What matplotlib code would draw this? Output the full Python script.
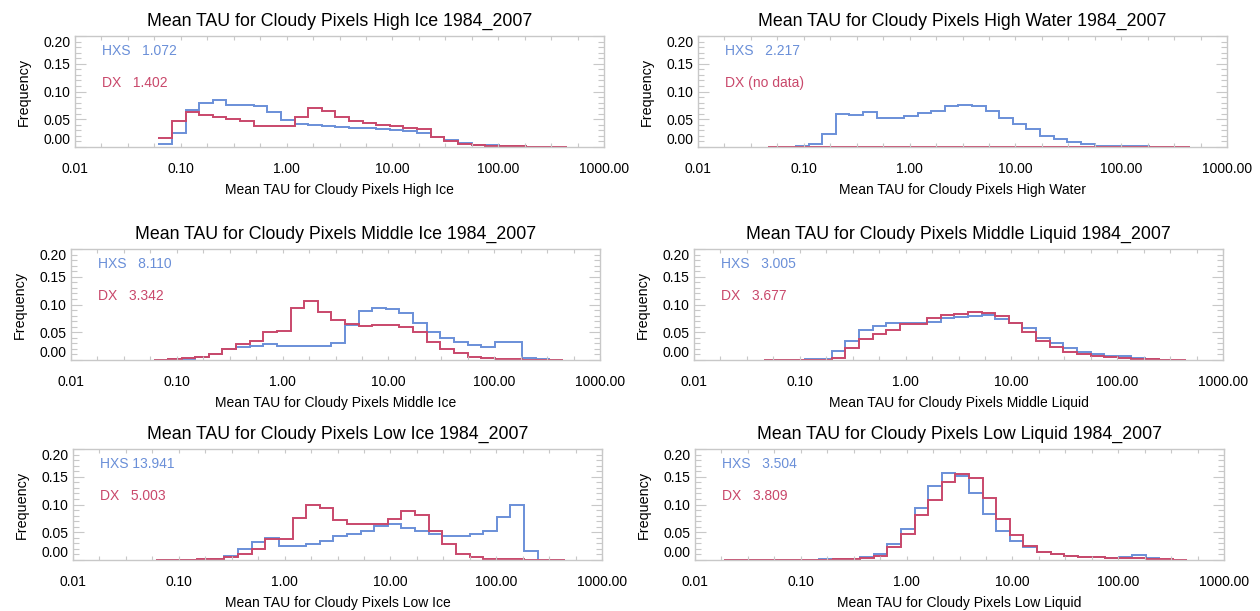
import numpy as np
import matplotlib
matplotlib.use("Agg")
import matplotlib.pyplot as plt
from matplotlib.ticker import FixedLocator, FormatStrFormatter, NullFormatter

plt.rcParams['font.family'] = ['Liberation Sans', 'DejaVu Sans']

# log-spaced optical depth bin edges shared by every histogram
tau_edges = [0.0187, 0.0252, 0.0339, 0.0456, 0.0614, 0.0826, 0.111, 0.149,
             0.201, 0.270, 0.363, 0.489, 0.657, 0.883, 1.19, 1.60, 2.15,
             2.89, 3.89, 5.23, 7.03, 9.46, 12.7, 17.1, 23.0, 31.0, 41.6,
             56.0, 75.3, 101.0, 136.0, 183.0, 246.0, 331.0, 446.0]

# frequencies per bin; *_first is the index of the first populated bin
high_ice_hxs_first = 4
high_ice_hxs = [.005, .025, .067, .079, .085, .076, .075, .073, .063, .048,
                .042, .039, .037, .036, .035, .034, .032, .030, .028, .025,
                .018, .013, .007, .004, .003, .002, .0012, .0006]
high_ice_dx_first = 4
high_ice_dx = [.017, .047, .063, .057, .054, .050, .047, .037, .038, .038,
               .054, .070, .064, .054, .047, .043, .040, .037, .035, .032,
               .018, .011, .006, .004, .002, .0015, .001, .0007, .0005, .0003]

high_water_hxs_first = 5
high_water_hxs = [.002, .005, .024, .060, .058, .063, .053, .052, .055, .061,
                  .064, .073, .076, .073, .064, .053, .042, .033, .020, .014,
                  .009, .005, .0025, .002, .0015, .001, .0005, .0003]
high_water_dx_first = 3
high_water_dx = [0.0] * 31

mid_ice_hxs_first = 4
mid_ice_hxs = [.0003, .001, .002, .005, .010, .020, .024, .026, .028, .025,
               .025, .025, .026, .031, .063, .088, .093, .092, .084, .066,
               .051, .040, .032, .027, .024, .032, .032, .004, .001, .0003]
mid_ice_dx_first = 4
mid_ice_dx = [.0005, .001, .003, .006, .011, .020, .028, .034, .051, .052,
              .093, .107, .086, .072, .064, .062, .063, .063, .060, .051,
              .033, .019, .012, .006, .003, .0015, .001, .0007, .0005, .0003]

mid_liq_hxs_first = 3
mid_liq_hxs = [.0002, .0003, .0005, .001, .002, .016, .034, .054, .062, .066,
               .066, .066, .069, .075, .078, .080, .081, .074, .066, .057,
               .040, .031, .022, .015, .010, .007, .0066, .003, .002, .0005]
mid_liq_dx_first = 3
mid_liq_dx = [.0002, .0003, .0004, .0005, .0005, .004, .021, .038, .046, .054,
              .064, .065, .075, .081, .083, .086, .084, .080, .066, .051,
              .034, .024, .015, .010, .007, .005, .004, .0024, .0012, .0006,
              .0003]

low_ice_hxs_first = 4
low_ice_hxs = [.0001, .0002, .0003, .0005, .002, .008, .020, .033, .039, .026,
               .026, .029, .035, .043, .047, .053, .061, .064, .058, .052,
               .047, .044, .044, .047, .052, .078, .100, .017, .0006, .0002]
low_ice_dx_first = 4
low_ice_dx = [.0002, .0003, .0005, .001, .002, .005, .011, .020, .037, .038,
              .076, .100, .094, .072, .064, .065, .065, .073, .088, .081,
              .052, .029, .011, .005, .002, .0015, .001, .0008, .0005, .0003]

low_liq_hxs_first = 0
low_liq_hxs = [.0002, .0002, .0003, .0003, .0004, .0005, .0007, .001, .0015,
               .002, .005, .011, .029, .055, .093, .133, .156, .152, .120,
               .082, .053, .035, .023, .014, .010, .007, .006, .005, .004,
               .005, .009, .003]
low_liq_dx_first = 0
low_liq_dx = [.0002, .0002, .0003, .0003, .0003, .0004, .0005, .0007, .001,
              .001, .003, .008, .023, .047, .081, .108, .141, .155, .148,
              .111, .073, .045, .026, .015, .010, .007, .005, .005, .004,
              .004, .003, .002, .001, .0005]

# panel names and the mean tau printed in each panel (None = no data)
panel_names = ['High Ice', 'High Water', 'Middle Ice', 'Middle Liquid',
               'Low Ice', 'Low Liquid']
hxs_means = [1.072, 2.217, 8.110, 3.005, 13.941, 3.504]
dx_means = [1.402, None, 3.342, 3.677, 5.003, 3.809]

hxs_series = [(high_ice_hxs_first, high_ice_hxs),
              (high_water_hxs_first, high_water_hxs),
              (mid_ice_hxs_first, mid_ice_hxs),
              (mid_liq_hxs_first, mid_liq_hxs),
              (low_ice_hxs_first, low_ice_hxs),
              (low_liq_hxs_first, low_liq_hxs)]
dx_series = [(high_ice_dx_first, high_ice_dx),
             (high_water_dx_first, high_water_dx),
             (mid_ice_dx_first, mid_ice_dx),
             (mid_liq_dx_first, mid_liq_dx),
             (low_ice_dx_first, low_ice_dx),
             (low_liq_dx_first, low_liq_dx)]

x_ticks = [0.01, 0.1, 1, 10, 100, 1000]

HXS_COLOR = '#6a8fd8'
DX_COLOR = '#c9486b'
FRAME = '#c8c8c8'

W, H = 1260, 611
fig = plt.figure(figsize=(W / 100, H / 100), dpi=100)

# panel boxes in pixels: left edge per panel, top edge per row
box_left = [75, 698, 71, 694, 73, 695]
box_top = [36, 36, 249, 249, 449, 449]
box_w, box_h = 529, 111


def draw_steps(ax, first, values, color):
    e = tau_edges[first:first + len(values) + 1]
    ax.stairs(values, e, baseline=None, color=color, lw=1.4, clip_on=False)


def mean_label(tag, value):
    # fixed-width style: one-digit means get a wider gap
    gap = '   ' if value < 10 else ' '
    return f'{tag}{gap}{value:.3f}'


for i, name in enumerate(panel_names):
    x0 = box_left[i] / W
    y0 = 1 - (box_top[i] + box_h) / H
    ax = fig.add_axes([x0, y0, box_w / W, box_h / H])

    draw_steps(ax, *hxs_series[i], HXS_COLOR)
    draw_steps(ax, *dx_series[i], DX_COLOR)

    ax.set_xscale('log')
    ax.set_xlim(0.01, 1000)
    ax.set_ylim(0, 0.2)

    ax.xaxis.set_major_locator(FixedLocator(x_ticks))
    ax.xaxis.set_minor_locator(FixedLocator(10 ** np.arange(-2, 3.01, 0.25)))
    ax.xaxis.set_major_formatter(FormatStrFormatter('%.2f'))
    ax.xaxis.set_minor_formatter(NullFormatter())
    ax.set_yticks([0, 0.05, 0.10, 0.15, 0.20])
    ax.yaxis.set_minor_locator(FixedLocator(np.arange(0, 0.2001, 0.01)))
    ax.yaxis.set_major_formatter(FormatStrFormatter('%.2f'))

    ax.tick_params(axis='x', which='both', direction='in', length=3,
                   width=0.8, color=FRAME, top=True, bottom=True,
                   pad=11, labelsize=10)
    ax.tick_params(axis='y', which='major', direction='in', length=8,
                   width=0.8, color=FRAME, left=True, right=True,
                   pad=3.5, labelsize=10)
    ax.tick_params(axis='y', which='minor', direction='in', length=4,
                   width=0.8, color=FRAME, left=True, right=True)
    ylabels = ax.get_yticklabels()
    ylabels[0].set_va('bottom')
    ylabels[-1].set_va('top')

    for sp in ax.spines.values():
        sp.set_color(FRAME)
        sp.set_linewidth(1.0)

    ax.set_title(f'Mean TAU for Cloudy Pixels {name} 1984_2007',
                 fontsize=12.8, pad=7)
    ax.set_xlabel(f'Mean TAU for Cloudy Pixels {name}', fontsize=10,
                  labelpad=5)
    ax.set_ylabel('Frequency', fontsize=10.4, labelpad=9)

    ax.text(0.051, 0.865, mean_label('HXS', hxs_means[i]),
            transform=ax.transAxes, color=HXS_COLOR, fontsize=10,
            va='center')
    if dx_means[i] is None:
        dx_text = 'DX (no data)'
    else:
        dx_text = mean_label('DX', dx_means[i])
    ax.text(0.051, 0.58, dx_text, transform=ax.transAxes,
            color=DX_COLOR, fontsize=10, va='center')

fig.savefig('out.png', dpi=100)
